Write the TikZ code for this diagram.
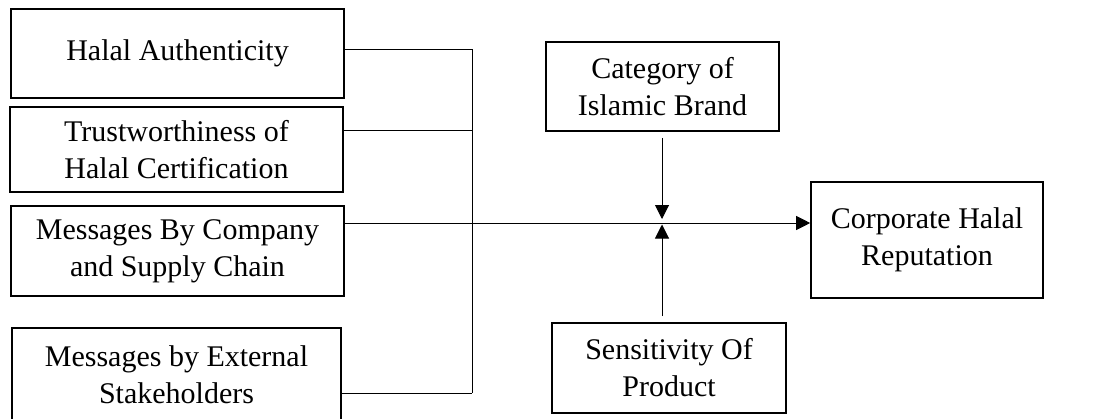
\documentclass[tikz,border=0pt]{standalone}
\usepackage{fontspec}
\setmainfont{Liberation Serif}
\usetikzlibrary{arrows.meta,calc}
\begin{document}
\begin{tikzpicture}[x=1pt,y=-1pt,
  box/.style={draw,line width=1.6pt,rectangle,align=center,inner sep=0pt,
    font=\fontsize{30}{37}\selectfont},
  conn/.style={line width=1pt},
  arr/.style={line width=1pt,-{Triangle[length=14pt,width=14pt]}}]
\useasboundingbox (0,0) rectangle (1114,418);
\node[box,minimum width=333pt,minimum height=89pt] (b1) at (177.5,53.5) {Halal Authenticity};
\node[box,minimum width=333pt,minimum height=85pt] (b2) at (176.5,149.5) {Trustworthiness of\\Halal Certification};
\node[box,minimum width=333pt,minimum height=90pt] (b3) at (177.5,251) {Messages By Company\\and Supply Chain};
\node[box,minimum width=329pt,minimum height=93pt] (b4) at (176.5,374.5) {Messages by External\\Stakeholders};
\node[box,minimum width=233pt,minimum height=89pt] (cat) at (662.5,86.5) {Category of\\Islamic Brand};
\node[box,minimum width=234pt,minimum height=90pt] (sens) at (669,368) {Sensitivity Of\\Product};
\node[box,minimum width=232pt,minimum height=116pt] (corp) at (927,240) {Corporate Halal\\Reputation};
\coordinate (j1) at (472,49);
\coordinate (j2) at (472,130);
\coordinate (j3) at (472,223);
\coordinate (j4) at (472,393);
\coordinate (m) at (662,223);
\draw[conn] (j1 -| b1.east) -- (j1);
\draw[conn] (j2 -| b2.east) -- (j2);
\draw[conn] (j4 -| b4.east) -- (j4);
\draw[conn] (j1) -- (j4);
\draw[arr] (j3 -| b3.east) -- (j3 -| corp.west);
\draw[arr,shorten >=4pt] ([yshift=-6pt]m |- cat.south) -- (m);
\draw[arr,shorten >=1.5pt] ([yshift=6pt]m |- sens.north) -- (m);
\end{tikzpicture}
\end{document}
